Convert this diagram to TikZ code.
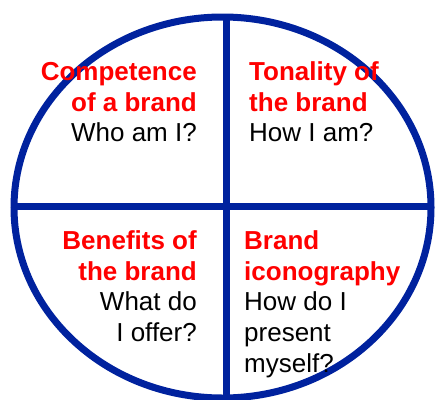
\documentclass[tikz,border=0pt]{standalone}
\usepackage{fontspec}
\setmainfont{Liberation Sans}
\definecolor{rimblue}{RGB}{0,34,158}
\definecolor{headred}{RGB}{255,0,0}
% heading lines are bold red, questions plain black
\newcommand\qhead[1]{{\color{headred}\bfseries #1}}
% fixes the height of a block's first line so its baseline sits 22pt below the top
\newcommand\firstln{\rule{0pt}{22pt}}
\begin{document}
\begin{tikzpicture}[x=1pt,y=-1pt,
  rim/.style={draw=rimblue,line width=7pt},
  quad/.style={inner sep=0pt,font=\fontsize{26}{30.8}\selectfont}]
\useasboundingbox (0,0) rectangle (435,399);
\clip (0,0) rectangle (435,399);

\coordinate (centre) at (222.5,207.5);
\coordinate (vtop) at (226,0);
\coordinate (vbot) at (226,420);
\coordinate (hleft) at (0,206);
\coordinate (hright) at (440,206);

% the dividing cross, kept inside the oval
\begin{scope}
  \clip (centre) ellipse [x radius=208.5, y radius=190.5];
  \draw[rim] (vtop) -- (vbot);
  \draw[rim] (hleft) -- (hright);
\end{scope}
\draw[rim] (centre) ellipse [x radius=208.5, y radius=190.5];

% the four quadrants
\node[quad, anchor=north east, align=right] (competence) at (197,58)
  {\firstln\qhead{Competence}\\ \qhead{of a brand}\\ Who am I?};
\node[quad, anchor=north west, align=left] (tonality) at (249,58)
  {\firstln\qhead{Tonality of}\\ \qhead{the brand}\\ How I am?};
\node[quad, anchor=north east, align=right] (benefits) at (197,227)
  {\firstln\qhead{Benefits of}\\ \qhead{the brand}\\ What do\\ I offer?};
\node[quad, anchor=north west, align=left] (iconography) at (244,227)
  {\firstln\qhead{Brand}\\ \qhead{iconography}\\ How do I\\ present\\ myself?};
\end{tikzpicture}
\end{document}
